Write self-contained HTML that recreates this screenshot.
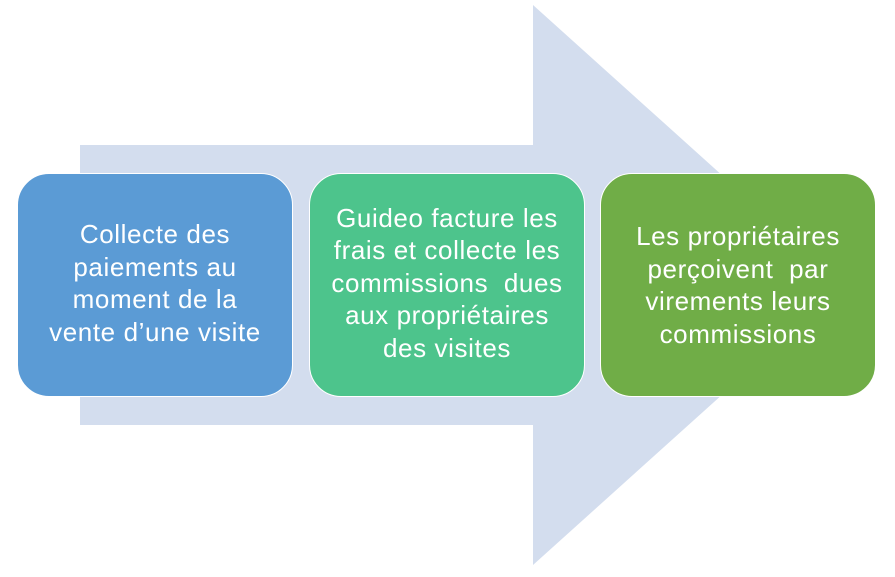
<!DOCTYPE html>
<html><head><meta charset="utf-8"><style>
body{margin:0;width:895px;height:577px;background:#fff;position:relative;overflow:hidden;font-family:"Liberation Sans",sans-serif}
.b{position:absolute;top:173px;height:224px;width:276px;border-radius:32px;border:1.5px solid #fff;box-sizing:border-box;display:flex;align-items:center;justify-content:center;text-align:center;color:#fff;font-size:26px;line-height:32.5px;letter-spacing:0.6px;white-space:nowrap}
</style></head><body>
<svg width="895" height="577" style="position:absolute;left:0;top:0">
<polygon points="80,145 533,145 533,5 844,285 533,565 533,425 80,425" fill="#d3ddee"/>
</svg>
<div class="b" style="left:17px;background:#5b9bd5;padding-bottom:4px">Collecte des<br>paiements au<br>moment de la<br>vente d’une visite</div>
<div class="b" style="left:309px;background:#4dc48c;padding-bottom:4px">Guideo facture les<br>frais et collecte les<br>commissions&nbsp; dues<br>aux propriétaires<br>des visites</div>
<div class="b" style="left:600px;background:#70ad47;padding-bottom:0px">Les propriétaires<br>perçoivent&nbsp; par<br>virements leurs<br>commissions</div>
</body></html>
